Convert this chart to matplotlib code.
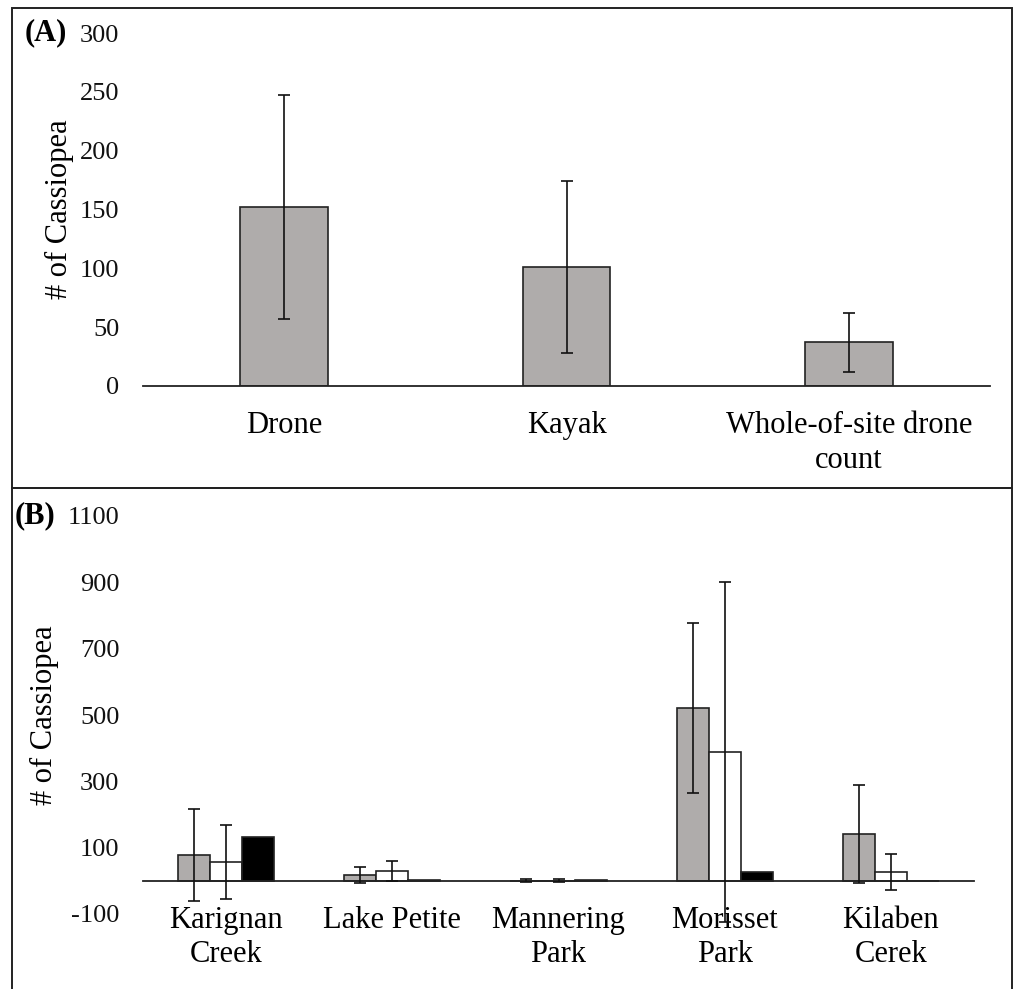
import matplotlib.pyplot as plt
from matplotlib.patches import Rectangle
import numpy as np

plt.rcParams['font.family'] = ['Liberation Serif', 'DejaVu Serif']
plt.rcParams['axes.unicode_minus'] = False

# panel A
metodos = ["Drone", "Kayak", "Whole-of-site drone\ncount"]
media_a = [152, 101, 37]
error_a = [95, 73, 25]

# panel B
sitios = ["Karignan\nCreek", "Lake Petite", "Mannering\nPark", "Morisset\nPark", "Kilaben\nCerek"]
gris = [78, 18, 1, 522, 142]
gris_err = [140, 24, 4, 256, 148]
blanco = [57, 30, 1, 389, 27]
blanco_err = [112, 30, 4, 513, 54]
negro = [133, 4, 3, 27, 0]

W, H = 1018, 989
fig = plt.figure(figsize=(W / 100, H / 100), dpi=100)

def caja(x0, y0, x1, y1):
    # rectangle in pixel coords (top-left origin)
    fig.patches.append(Rectangle((x0 / W, 1 - y1 / H), (x1 - x0) / W, (y1 - y0) / H,
                                 transform=fig.transFigure, fill=False,
                                 edgecolor='#222222', linewidth=1.4))

caja(12, 8, 1012, 488)
caja(12, 488, 1012, 995)

def ejes(x0, y0, x1, y1):
    return fig.add_axes([x0 / W, 1 - y1 / H, (x1 - x0) / W, (y1 - y0) / H])

color_gris = '#afacab'
ebar = dict(ecolor='#111111', elinewidth=1.2, capsize=4, capthick=1.2)

def estilo(ax):
    for s in ['left', 'right', 'top']:
        ax.spines[s].set_visible(False)
    ax.spines['bottom'].set_position(('data', 0))
    ax.spines['bottom'].set_linewidth(1.3)
    ax.spines['bottom'].set_color('#222222')
    ax.tick_params(axis='y', length=0, labelsize=19, pad=17)
    ax.tick_params(axis='x', length=0, labelsize=22, pad=18)
    for t in ax.get_yticklabels():
        t.set_color('#111111')
    for t in ax.get_xticklabels():
        t.set_linespacing(1.25)

# ---- (A)
ax1 = ejes(143, 33, 990, 386)
x1 = np.arange(len(metodos))
ax1.bar(x1, media_a, width=0.31, color=color_gris, edgecolor='#222222', linewidth=1.2,
        yerr=error_a, error_kw=ebar, zorder=2)
ax1.set_xlim(-0.5, 2.5)
ax1.set_ylim(0, 300)
ax1.set_yticks(range(0, 301, 50))
ax1.set_xticks(x1)
ax1.set_xticklabels(metodos)
estilo(ax1)
ax1.set_ylabel("# of Cassiopea", fontsize=22)
ax1.yaxis.set_label_coords(-0.081, 0.5)
fig.text(25 / W, 1 - 33 / H, "(A)", fontsize=22, fontweight='bold', va='center', ha='left')

# ---- (B)
ax2 = ejes(143, 516, 974, 914)
x2 = np.arange(len(sitios))
w = 0.193
ax2.bar(x2 - w, gris, width=w, color=color_gris, edgecolor='#222222', linewidth=1.2, zorder=2)
ax2.bar(x2, blanco, width=w, color='white', edgecolor='#222222', linewidth=1.2, zorder=2)
ax2.bar(x2 + w, negro, width=w, color='black', edgecolor='#222222', linewidth=1.2, zorder=2)
e1 = ax2.errorbar(x2 - w, gris, yerr=gris_err, fmt='none', zorder=3, **ebar)
e2 = ax2.errorbar(x2, blanco, yerr=blanco_err, fmt='none', zorder=3, **ebar)
for e in (e1, e2):
    for art in e.lines[1] + e.lines[2]:
        art.set_clip_on(False)
ax2.set_xlim(-0.5, 4.5)
ax2.set_ylim(-100, 1100)
ax2.set_yticks(range(-100, 1101, 200))
ax2.set_xticks(x2)
ax2.set_xticklabels(sitios)
estilo(ax2)
ax2.set_ylabel("# of Cassiopea", fontsize=22)
ax2.yaxis.set_label_coords(-0.101, 0.5)
fig.text(15 / W, 1 - 516 / H, "(B)", fontsize=22, fontweight='bold', va='center', ha='left')

fig.savefig("out.png", dpi=100)
